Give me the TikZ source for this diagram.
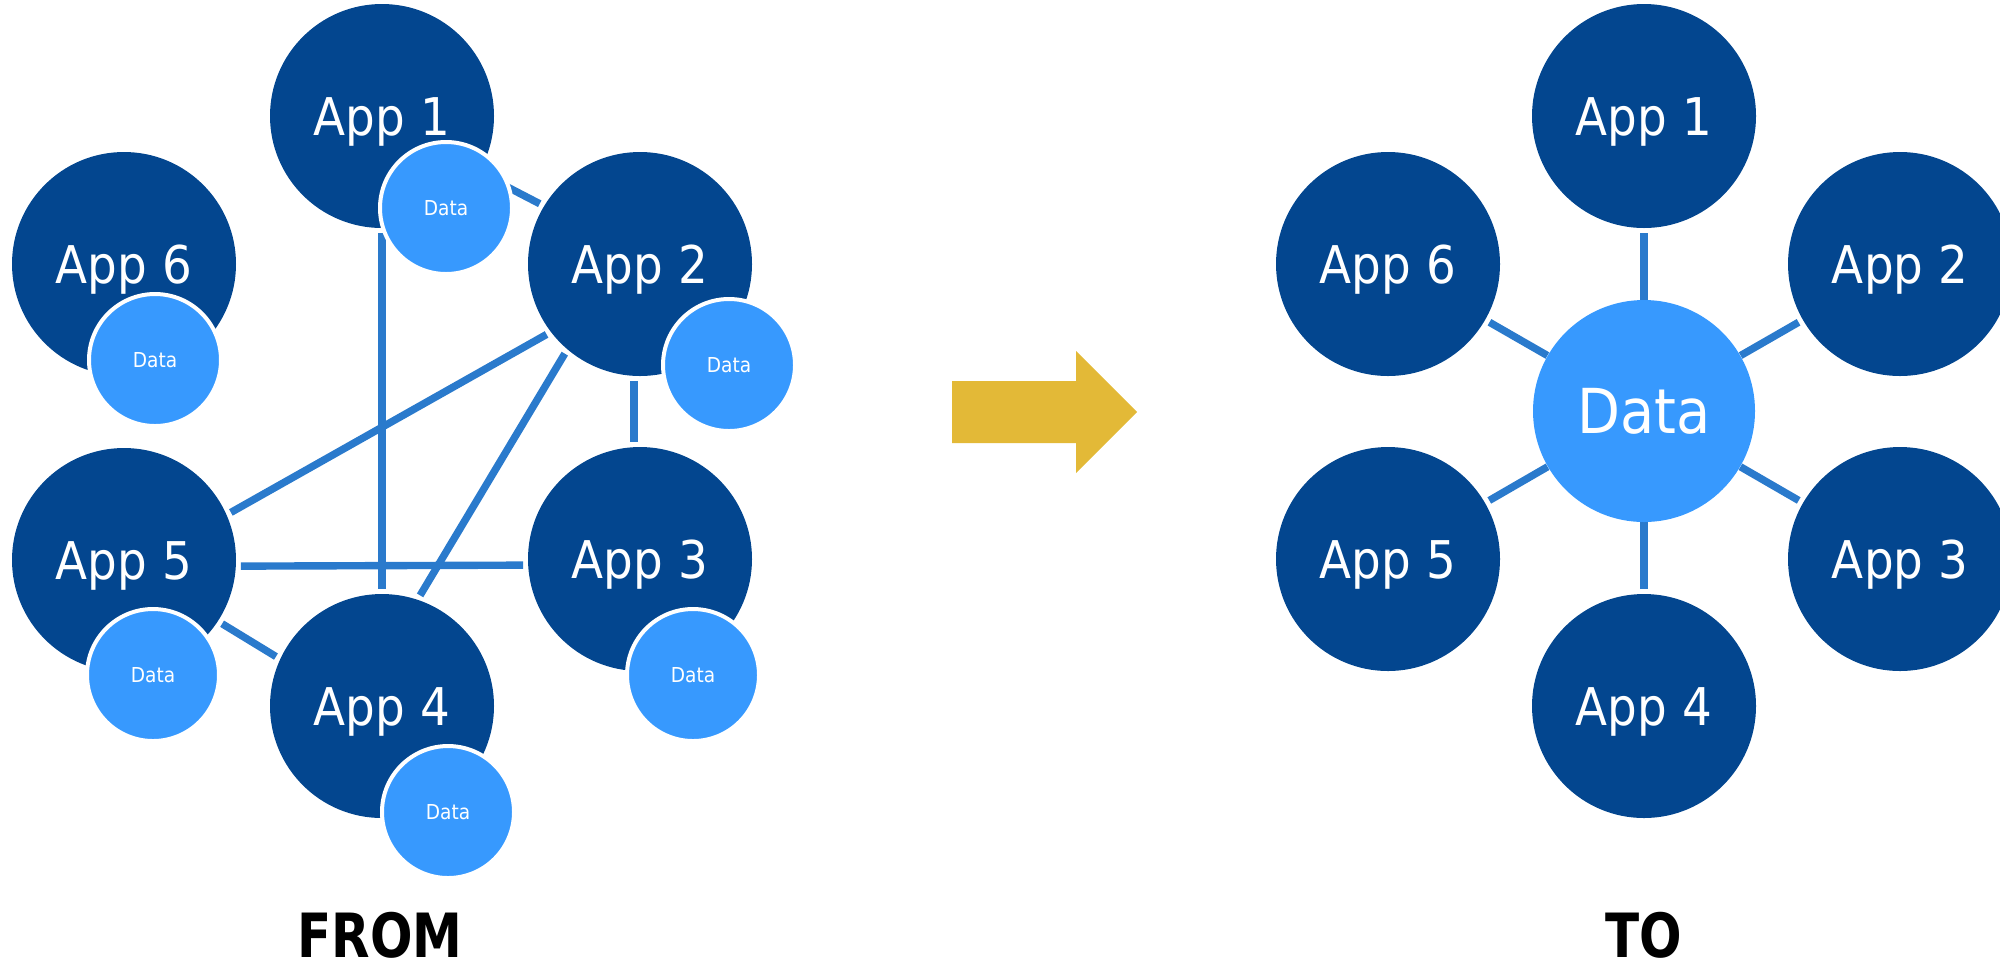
\documentclass[tikz,border=0pt]{standalone}
\usepackage{fontspec}
\setmainfont{DejaVu Sans}[FakeStretch=0.9]
\newfontfamily\capfont{DejaVu Sans}[FakeStretch=0.82]
\definecolor{appblue}{HTML}{03468F}
\definecolor{datablue}{HTML}{3799FE}
\definecolor{linkblue}{HTML}{2A7ACC}
\definecolor{arrowgold}{HTML}{E3B937}
\pgfdeclarelayer{background}
\pgfsetlayers{background,main}
\begin{document}
\begin{tikzpicture}[x=0.5pt,y=-0.5pt,
  app/.style={circle, fill=appblue, minimum size=112pt, inner sep=0pt, outer sep=2.5pt,
    text=white, font=\fontsize{26}{26}\selectfont, text height=19pt, text depth=0pt},
  minidata/.style={circle, fill=datablue, draw=white, line width=2pt, minimum size=66pt,
    inner sep=0pt, text=white, font=\fontsize{10.3}{10.3}\selectfont, text height=7.5pt, text depth=0pt},
  bigdata/.style={circle, fill=datablue, minimum size=111pt, inner sep=0pt, text=white,
    font=\fontsize{31}{31}\selectfont, text height=22.6pt, text depth=0pt},
  link/.style={draw=linkblue, line width=3.7pt},
  caption/.style={font=\capfont\bfseries\fontsize{30.5}{30.5}\selectfont, text height=22.2pt, text depth=0pt, inner sep=0pt}]
\useasboundingbox (0,0) rectangle (2000,966);
\clip (0,0) rectangle (2000,966);

% ---------- FROM (left) ----------
\node[app] (a1) at (382,116) {App 1};
\node[app] (a2) at (640,264) {App 2};
\node[app] (a3) at (640,559) {App 3};
\node[app] (a4) at (382,706) {App 4};
\node[app] (a5) at (124,560) {App 5};
\node[app] (a6) at (124,264) {App 6};

\begin{pgfonlayer}{background}
\draw[link] (a1.-30) -- (a2.149.5);
\draw[link] (a1.south) -- (a4.north);
\draw[link] (a2.217) -- (a5.24);
\draw[link] (a2.230) -- (a4.71);
\draw[link] (a2.267) -- (a3.93);
\draw[link] (a5.-3) -- (a3.183);
\draw[link] (a5.-33) -- (a4.155);
\end{pgfonlayer}

\node[minidata] (d1) at (446,208) {Data};
\node[minidata] (d2) at (729,365) {Data};
\node[minidata] (d3) at (693,675) {Data};
\node[minidata] (d4) at (448,812) {Data};
\node[minidata] (d5) at (153,675) {Data};
\node[minidata] (d6) at (155,360) {Data};

\node[caption] (from) at (380,935) {FROM};

% ---------- arrow ----------
\fill[arrowgold] (952,381) -- (1076,381) -- (1076,351) -- (1137,412) -- (1076,473)
  -- (1076,443) -- (952,443) -- cycle;

% ---------- TO (right) ----------
\node[app] (b1) at (1644,116) {App 1};
\node[app] (b2) at (1900,264) {App 2};
\node[app] (b3) at (1900,559) {App 3};
\node[app] (b4) at (1644,706) {App 4};
\node[app] (b5) at (1388,559) {App 5};
\node[app] (b6) at (1388,264) {App 6};
\node[bigdata] (bd) at (1644,411) {Data};

\begin{pgfonlayer}{background}
\foreach \n in {b1,b2,b3,b4,b5,b6} \draw[link] (\n) -- (bd);
\end{pgfonlayer}

\node[caption] (to) at (1644,935) {TO};
\end{tikzpicture}
\end{document}
